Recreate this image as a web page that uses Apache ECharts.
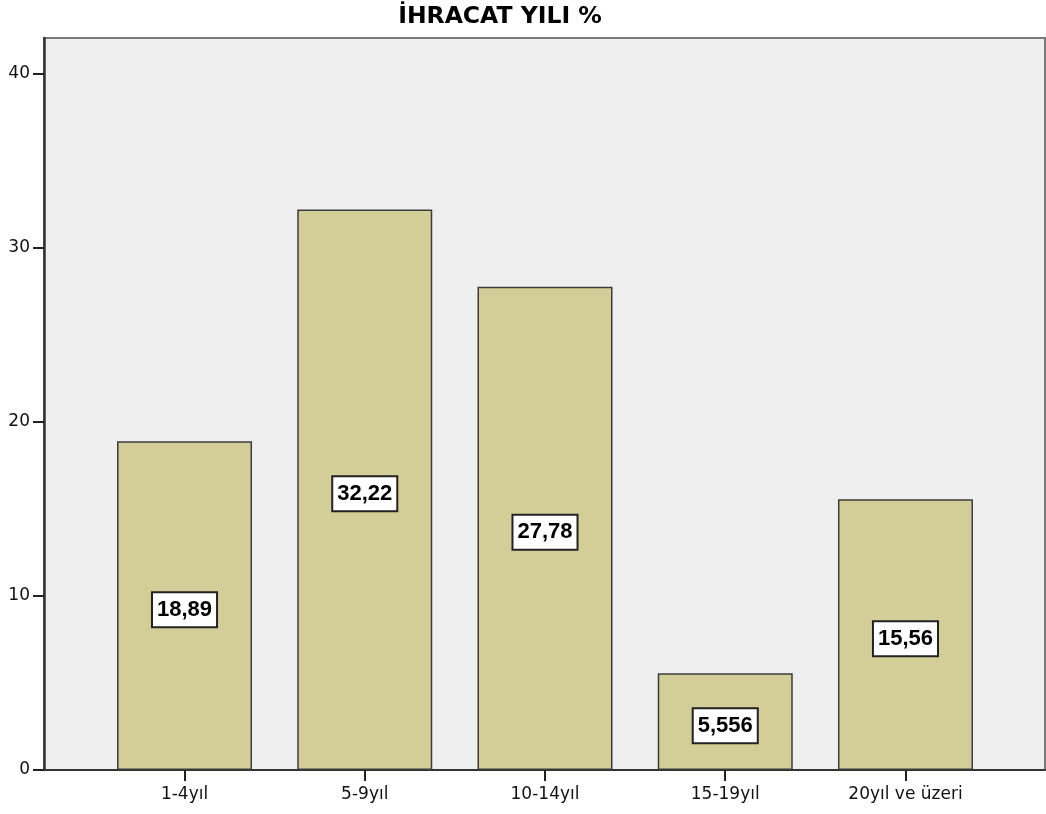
<!DOCTYPE html>
<html>
<head>
<meta charset="utf-8">
<title>İHRACAT YILI %</title>
<script src="https://cdn.jsdelivr.net/npm/echarts@6/dist/echarts.min.js"></script>
<style>
  html, body { margin: 0; padding: 0; background: #ffffff; }
  #chart { width: 1046px; height: 814px; }
</style>
</head>
<body>
<div id="chart"></div>
<script>
// Export years (years of exporting activity), share of firms in percent
const categories = ['1-4yıl', '5-9yıl', '10-14yıl', '15-19yıl', '20yıl ve üzeri'];
const percents = [18.89, 32.22, 27.78, 5.556, 15.56];
const yTicks = [0, 10, 20, 30, 40];
const yMax = 42.07;

const axisFont = 'DejaVu Sans';
const toComma = v => String(v).replace('.', ',');

const chart = echarts.init(document.getElementById('chart'), null, { renderer: 'canvas' });

chart.setOption({
  animation: false,
  backgroundColor: '#ffffff',
  title: {
    text: 'İHRACAT YILI %',
    left: 500,
    top: 5,
    textAlign: 'center',
    padding: 0,
    textStyle: {
      fontFamily: axisFont,
      fontWeight: 'bold',
      fontSize: 23.5,
      lineHeight: 24,
      color: '#000000'
    }
  },
  grid: [
    // frame with the value axis and the shaded plot background
    {
      left: 44, right: 1, top: 38, bottom: 44,
      show: true,
      backgroundColor: '#efefef',
      borderColor: '#7a7a7a',
      borderWidth: 2
    },
    // inner band where the bars sit
    { left: 94.4, right: 50.4, top: 38, bottom: 44 }
  ],
  xAxis: [
    {
      gridIndex: 0, type: 'value', min: 0, max: 1,
      axisLine: { show: true, lineStyle: { color: '#333333', width: 2 } },
      axisTick: { show: false }, axisLabel: { show: false }, splitLine: { show: false }
    },
    {
      gridIndex: 1, type: 'category', data: categories,
      axisLine: { show: false },
      axisTick: { show: true, alignWithLabel: true, length: 11, inside: false,
                  lineStyle: { color: '#222222', width: 2 } },
      axisLabel: { margin: 16, fontFamily: axisFont, fontSize: 17, color: '#111111' },
      splitLine: { show: false }
    }
  ],
  yAxis: [
    {
      gridIndex: 0, type: 'value', min: 0, max: yMax, interval: 10,
      axisLine: { show: true, lineStyle: { color: '#333333', width: 2.5 } },
      axisTick: { show: true, length: 11, customValues: yTicks,
                  lineStyle: { color: '#222222', width: 2 } },
      axisLabel: { margin: 14, customValues: yTicks, fontFamily: axisFont,
                   fontSize: 17, color: '#111111' },
      splitLine: { show: false }
    },
    {
      gridIndex: 1, type: 'value', min: 0, max: yMax, show: false,
      splitLine: { show: false }
    }
  ],
  series: [
    {
      type: 'bar',
      xAxisIndex: 1,
      yAxisIndex: 1,
      data: percents,
      barWidth: 135,
      itemStyle: {
        color: '#d3ce98',
        borderColor: '#3c3c3c',
        borderWidth: 1.5
      },
      label: {
        show: true,
        position: 'inside',
        offset: [0, 4],
        formatter: p => toComma(p.value),
        fontFamily: 'Liberation Sans',
        fontWeight: 'bold',
        fontSize: 22,
        color: '#000000',
        backgroundColor: '#ffffff',
        borderColor: '#222222',
        borderWidth: 2,
        padding: [6, 4, 5, 4]
      }
    }
  ]
});
</script>
</body>
</html>
